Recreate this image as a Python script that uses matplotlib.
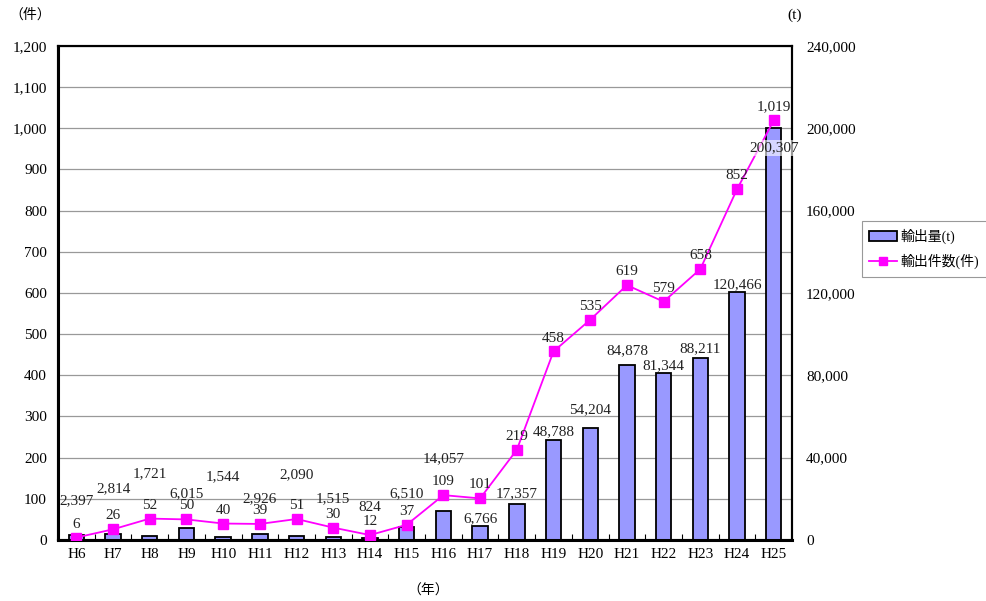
import matplotlib
matplotlib.use("Agg")
import matplotlib.pyplot as plt
from matplotlib.ticker import FuncFormatter, MultipleLocator
from matplotlib.patches import Patch
from matplotlib.lines import Line2D

plt.rcParams['font.family'] = ['Liberation Serif', 'Noto Sans CJK JP', 'DejaVu Sans']

years = ["H6", "H7", "H8", "H9", "H10", "H11", "H12", "H13", "H14", "H15",
         "H16", "H17", "H18", "H19", "H20", "H21", "H22", "H23", "H24", "H25"]
volume_t = [2397, 2814, 1721, 6015, 1544, 2926, 2090, 1515, 824, 6510,
            14057, 6766, 17357, 48788, 54204, 84878, 81344, 88211, 120466, 200307]
count = [6, 26, 52, 50, 40, 39, 51, 30, 12, 37,
         109, 101, 219, 458, 535, 619, 579, 658, 852, 1019]
# label heights for the volume labels (in left-axis units)
vol_label_y = [95, 124, 160, 112, 153, 100, 158, 100, 80, 112,
               197, 51, 112, 262, 316, 461, 423, 464, 619, 952]

fig = plt.figure(figsize=(9.87, 6.01), dpi=100)
ax2 = fig.add_axes([0.0588, 0.1015, 0.7437, 0.822])
ax = ax2.twinx()
ax.yaxis.tick_left()
ax.yaxis.set_label_position("left")
ax2.yaxis.tick_right()

x = list(range(len(years)))

# bars on the right axis
ax2.bar(x, volume_t, width=0.42, color="#9999FF", edgecolor="#000000",
        linewidth=1.3, zorder=3)
ax2.set_ylim(0, 240000)
ax2.yaxis.set_major_locator(MultipleLocator(40000))
ax2.yaxis.set_minor_locator(MultipleLocator(20000))
ax2.yaxis.set_major_formatter(FuncFormatter(lambda v, p: f"{int(v):,}"))
ax2.grid(axis="y", which="both", color="#999999", linewidth=0.9, zorder=0)
ax2.set_axisbelow(True)
ax2.tick_params(axis="y", which="both", length=0, labelsize=11, pad=10)
ax2.set_xlim(-0.5, len(years) - 0.5)
ax2.set_xticks(x)
ax2.set_xticklabels(years, fontsize=11)
ax2.tick_params(axis="x", which="major", length=0, pad=6)
ax2.set_xticks([i + 0.5 for i in x[:-1]], minor=True)
ax2.tick_params(axis="x", which="minor", direction="in", length=4, width=0.8)

# line on the left axis
ax.set_zorder(ax2.get_zorder() + 1)
ax.patch.set_visible(False)
ax.plot(x, count, color="#FF00FF", linewidth=1.3, marker="s", markersize=7,
        markerfacecolor="#FF00FF", markeredgecolor="#FF00FF", zorder=4)
ax.set_ylim(0, 1200)
ax.yaxis.set_major_locator(MultipleLocator(100))
ax.yaxis.set_major_formatter(FuncFormatter(lambda v, p: f"{int(v):,}"))
ax.tick_params(axis="y", length=0, labelsize=11, pad=8)

for i, c in enumerate(count):
    ax.annotate(f"{c:,}", (i, c), xytext=(0, 5), textcoords="offset points",
                ha="center", va="bottom", fontsize=11, color="#222222", zorder=6)

for i, (v, ly) in enumerate(zip(volume_t, vol_label_y)):
    kw = {}
    if i == len(years) - 1:
        kw["bbox"] = dict(facecolor="white", edgecolor="none", alpha=0.6, pad=1)
    ax.text(i, ly, f"{v:,}", ha="center", va="center", fontsize=11,
            color="#222222", zorder=6, **kw)

for a in (ax, ax2):
    for s in a.spines.values():
        s.set_linewidth(1.5)
        s.set_color("black")
ax.spines["left"].set_linewidth(2.2)
ax.spines["bottom"].set_linewidth(2.2)

fig.text(0.031, 0.975, "（件）", fontsize=10, ha="center", va="center")
fig.text(0.805, 0.975, "(t)", fontsize=11, ha="center", va="center")
fig.text(0.434, 0.016, "（年）", fontsize=10, ha="center", va="center")

handles = [Patch(facecolor="#9999FF", edgecolor="black", linewidth=1.3),
           Line2D([0], [0], color="#FF00FF", marker="s", markersize=6, linewidth=1.3)]
leg = fig.legend(handles, ["輸出量(t)", "輸出件数(件)"], loc="upper left",
                 bbox_to_anchor=(0.873, 0.632), fontsize=10, fancybox=False,
                 edgecolor="#999999", framealpha=1, handlelength=2.0,
                 handleheight=0.7, borderpad=0.55, labelspacing=0.7,
                 handletextpad=0.25, borderaxespad=0)
leg.get_frame().set_linewidth(0.8)

fig.savefig("out.png", dpi=100)
